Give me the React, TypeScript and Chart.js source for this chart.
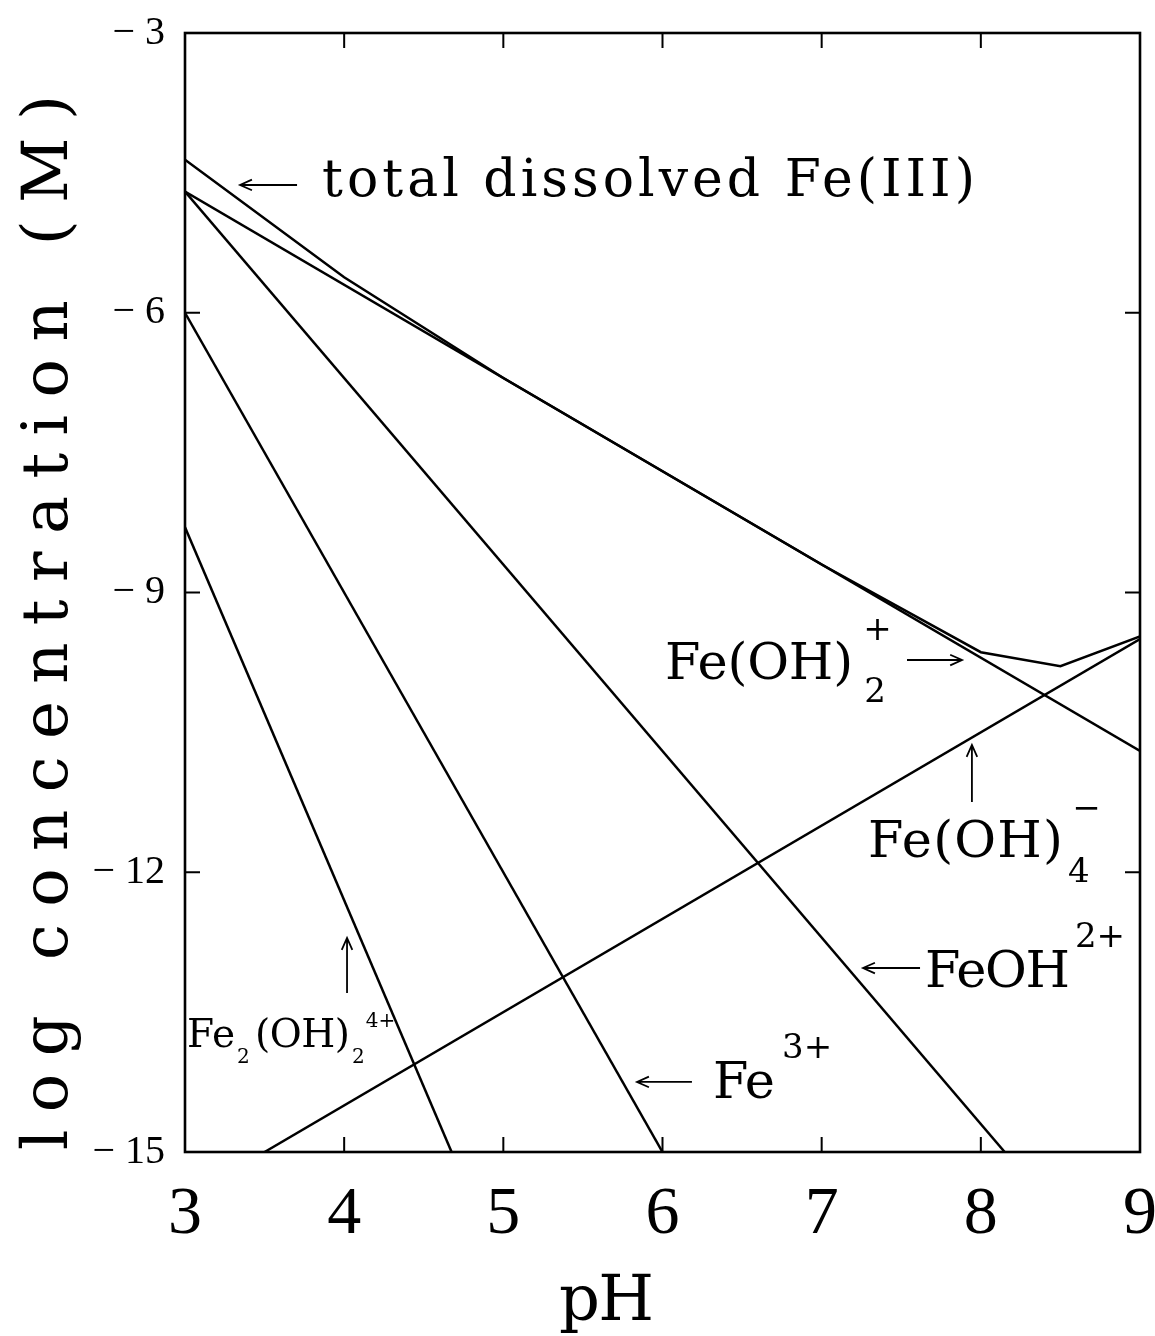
import React, { useEffect, useRef } from "react";
import { Chart, registerables } from "chart.js";

Chart.register(...registerables);

const TICK_FONT = '"Liberation Serif", "DejaVu Serif", serif';
const LABEL_FONT = '"DejaVu Serif", "Liberation Serif", serif';

// Axis ticks
const PH_TICKS = [3, 4, 5, 6, 7, 8, 9];
const LOG_TICKS = [-15, -12, -9, -6, -3];
const LOG_TICK_LABELS = ["− 15", "− 12", "− 9", "− 6", "− 3"];

// Species lines (pH, log concentration)
const FE3_PH = [3, 6];
const FE3_LOG = [-6, -15];

const FEOH_PH = [3, 8.15];
const FEOH_LOG = [-4.7, -15];

const FEOH2_PH = [3, 9];
const FEOH2_LOG = [-4.7, -10.7];

const FEOH4_PH = [3.5, 9];
const FEOH4_LOG = [-15, -9.5];

const FE2OH2_PH = [3, 4.675];
const FE2OH2_LOG = [-8.3, -15];

const TOTAL_PH = [3, 4, 5, 6, 7, 8, 8.5, 9];
const TOTAL_LOG = [-4.36, -5.62, -6.7, -7.7, -8.7, -9.64, -9.79, -9.47];

const zip = (xs: number[], ys: number[]) => xs.map((x, i) => ({ x, y: ys[i] }));

// Label pieces placed in data units: left edge pH, baseline log value,
// font size, and optional pH where the piece should end.
type Piece = { text: string; ph: number; lg: number; size: number; toPh?: number };
const LABEL_PIECES: Piece[] = [
  { text: "total dissolved Fe(III)", ph: 3.861, lg: -4.75, size: 52, toPh: 7.963 },

  { text: "Fe(OH)", ph: 6.016, lg: -9.928, size: 51, toPh: 7.197 },
  { text: "+", ph: 7.262, lg: -9.509, size: 34 },
  { text: "2", ph: 7.268, lg: -10.174, size: 34 },

  { text: "Fe(OH)", ph: 7.291, lg: -11.836, size: 51, toPh: 8.516 },
  { text: "−", ph: 8.575, lg: -11.43, size: 34 },
  { text: "4", ph: 8.548, lg: -12.104, size: 34 },

  { text: "FeOH", ph: 7.649, lg: -13.231, size: 51, toPh: 8.56 },
  { text: "2+", ph: 8.591, lg: -12.802, size: 34 },

  { text: "Fe", ph: 6.317, lg: -14.421, size: 51, toPh: 6.707 },
  { text: "3+", ph: 6.751, lg: -13.992, size: 34 },

  { text: "Fe", ph: 3.013, lg: -13.874, size: 39 },
  { text: "2", ph: 3.327, lg: -14.046, size: 20 },
  { text: "(OH)", ph: 3.44, lg: -13.874, size: 39, toPh: 4.037 },
  { text: "2", ph: 4.049, lg: -14.046, size: 20 },
  { text: "4+", ph: 4.135, lg: -13.66, size: 20 },
];

// Arrows from tail to tip, in data units
type Arrow = { ph0: number; lg0: number; ph1: number; lg1: number };
const LABEL_ARROWS: Arrow[] = [
  { ph0: 3.704, lg0: -4.63, ph1: 3.346, lg1: -4.63 },
  { ph0: 7.536, lg0: -9.724, ph1: 7.882, lg1: -9.724 },
  { ph0: 7.944, lg0: -11.247, ph1: 7.944, lg1: -10.635 },
  { ph0: 7.618, lg0: -13.027, ph1: 7.26, lg1: -13.027 },
  { ph0: 6.185, lg0: -14.249, ph1: 5.84, lg1: -14.249 },
  { ph0: 4.018, lg0: -13.295, ph1: 4.018, lg1: -12.705 },
];

const Y_TITLE = "log concentration (M)";
const X_TITLE = "pH";

function drawSpaced(
  ctx: CanvasRenderingContext2D,
  text: string,
  x: number,
  y: number,
  size: number,
  font: string,
  width?: number
) {
  ctx.font = `${size}px ${font}`;
  (ctx as any).letterSpacing = "0px";
  if (width !== undefined && text.length > 1) {
    const w0 = ctx.measureText(text).width;
    const ls = (width - w0) / (text.length - 1);
    (ctx as any).letterSpacing = `${ls}px`;
  }
  ctx.fillText(text, x, y);
  (ctx as any).letterSpacing = "0px";
}

const framePlugin = {
  id: "frameAndLabels",
  beforeDraw(chart: any) {
    const { ctx, width, height } = chart;
    ctx.save();
    ctx.fillStyle = "#fff";
    ctx.fillRect(0, 0, width, height);
    ctx.restore();
  },
  afterDraw(chart: any) {
    const { ctx, chartArea: a, scales } = chart;
    const xs = scales.x;
    const ys = scales.y;
    ctx.save();
    ctx.strokeStyle = "#000";
    ctx.fillStyle = "#000";
    ctx.lineCap = "butt";

    // frame
    ctx.lineWidth = 2.6;
    ctx.strokeRect(a.left, a.top, a.right - a.left, a.bottom - a.top);

    // inward tick marks on all four sides
    const TL = 15;
    ctx.lineWidth = 2;
    ctx.beginPath();
    for (const v of PH_TICKS) {
      const px = xs.getPixelForValue(v);
      if (px <= a.left + 1 || px >= a.right - 1) continue;
      ctx.moveTo(px, a.bottom);
      ctx.lineTo(px, a.bottom - TL);
      ctx.moveTo(px, a.top);
      ctx.lineTo(px, a.top + TL);
    }
    for (const v of LOG_TICKS) {
      const py = ys.getPixelForValue(v);
      if (py <= a.top + 1 || py >= a.bottom - 1) continue;
      ctx.moveTo(a.left, py);
      ctx.lineTo(a.left + TL, py);
      ctx.moveTo(a.right, py);
      ctx.lineTo(a.right - TL, py);
    }
    ctx.stroke();

    // label text
    ctx.textAlign = "left";
    ctx.textBaseline = "alphabetic";
    for (const p of LABEL_PIECES) {
      const x = xs.getPixelForValue(p.ph);
      const y = ys.getPixelForValue(p.lg);
      const w = p.toPh !== undefined ? xs.getPixelForValue(p.toPh) - x : undefined;
      drawSpaced(ctx, p.text, x, y, p.size, LABEL_FONT, w);
    }

    // arrows
    ctx.lineWidth = 1.8;
    for (const ar of LABEL_ARROWS) {
      const x0 = xs.getPixelForValue(ar.ph0);
      const y0 = ys.getPixelForValue(ar.lg0);
      const x1 = xs.getPixelForValue(ar.ph1);
      const y1 = ys.getPixelForValue(ar.lg1);
      const ang = Math.atan2(y1 - y0, x1 - x0);
      const h = 13;
      const s = 0.42;
      ctx.beginPath();
      ctx.moveTo(x0, y0);
      ctx.lineTo(x1, y1);
      ctx.moveTo(x1 - h * Math.cos(ang - s), y1 - h * Math.sin(ang - s));
      ctx.lineTo(x1, y1);
      ctx.lineTo(x1 - h * Math.cos(ang + s), y1 - h * Math.sin(ang + s));
      ctx.stroke();
    }

    // axis titles
    ctx.save();
    ctx.translate(a.left - 118, a.bottom - 2);
    ctx.rotate(-Math.PI / 2);
    drawSpaced(ctx, Y_TITLE, 0, 0, 64, LABEL_FONT, 1055);
    ctx.restore();

    const xt = xs.getPixelForValue(5.35);
    drawSpaced(ctx, X_TITLE, xt, a.bottom + 168, 64, LABEL_FONT, 95);

    ctx.restore();
  },
};

export default function App() {
  const ref = useRef<HTMLCanvasElement | null>(null);

  useEffect(() => {
    const canvas = ref.current;
    if (!canvas) return;
    const line = (data: { x: number; y: number }[]) => ({
      data,
      borderColor: "#000",
      borderWidth: 2.5,
      pointRadius: 0,
      fill: false,
      tension: 0,
    });
    const chart = new Chart(canvas, {
      type: "line",
      data: {
        datasets: [
          { label: "total dissolved Fe(III)", ...line(zip(TOTAL_PH, TOTAL_LOG)) },
          { label: "Fe3+", ...line(zip(FE3_PH, FE3_LOG)) },
          { label: "FeOH2+", ...line(zip(FEOH_PH, FEOH_LOG)) },
          { label: "Fe(OH)2+", ...line(zip(FEOH2_PH, FEOH2_LOG)) },
          { label: "Fe(OH)4-", ...line(zip(FEOH4_PH, FEOH4_LOG)) },
          { label: "Fe2(OH)2 4+", ...line(zip(FE2OH2_PH, FE2OH2_LOG)) },
        ],
      },
      options: {
        responsive: false,
        animation: false,
        devicePixelRatio: 1,
        layout: { padding: { top: 33, right: 15, left: 0, bottom: 0 } },
        plugins: {
          legend: { display: false },
          tooltip: { enabled: false },
        },
        scales: {
          x: {
            type: "linear",
            min: 3,
            max: 9,
            grid: { display: false, drawTicks: false },
            border: { display: false },
            ticks: {
              stepSize: 1,
              autoSkip: false,
              maxRotation: 0,
              padding: 22,
              color: "#000",
              font: { family: TICK_FONT, size: 68 },
              callback: (v: any) => (PH_TICKS.includes(Number(v)) ? String(v) : ""),
            },
            afterFit: (s: any) => {
              s.height = 184;
              s.paddingLeft = 0;
              s.paddingRight = 0;
            },
          },
          y: {
            type: "linear",
            min: -15,
            max: -3,
            grid: { display: false, drawTicks: false },
            border: { display: false },
            ticks: {
              stepSize: 3,
              autoSkip: false,
              padding: 20,
              color: "#000",
              font: { family: TICK_FONT, size: 40 },
              callback: (v: any) => {
                const i = LOG_TICKS.indexOf(Number(v));
                return i >= 0 ? LOG_TICK_LABELS[i] : "";
              },
            },
            afterFit: (s: any) => {
              s.width = 185;
              s.paddingTop = 0;
              s.paddingBottom = 0;
            },
          },
        },
      },
      plugins: [framePlugin],
    } as any);
    return () => chart.destroy();
  }, []);

  return (
    <div style={{ position: "absolute", left: 0, top: 0, width: 1155, height: 1336 }}>
      <canvas ref={ref} width={1155} height={1336} style={{ display: "block" }} />
    </div>
  );
}
